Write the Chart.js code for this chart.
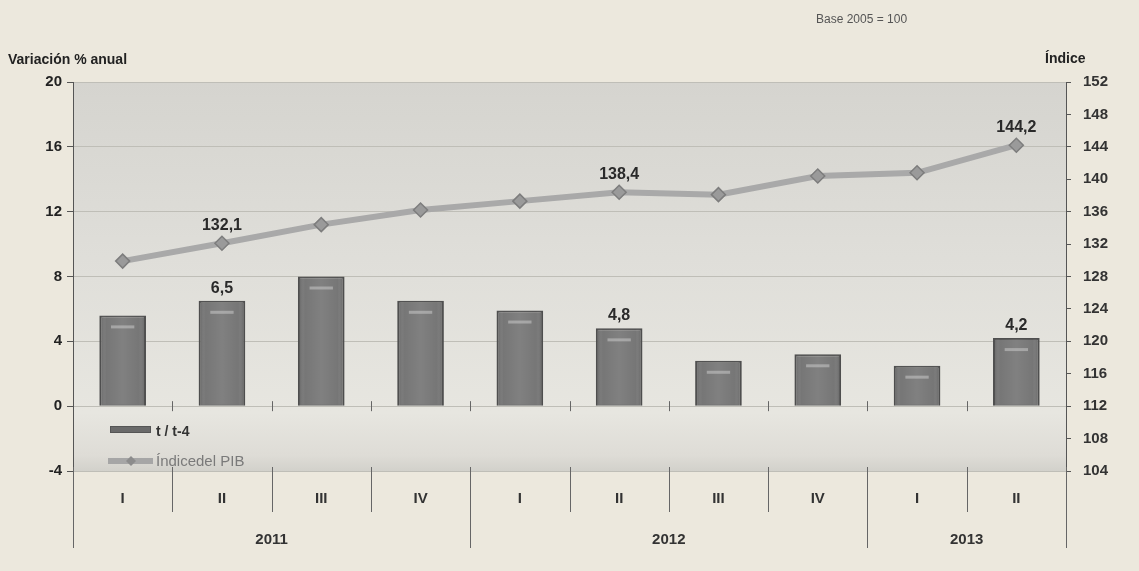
<!DOCTYPE html>
<html>
<head>
<meta charset="utf-8">
<script src="https://cdn.jsdelivr.net/npm/chart.js@4.4.0/dist/chart.umd.min.js"></script>
<style>
    html, body { margin: 0; padding: 0; background: #ece8dd; }
    #wrap { width: 1139px; height: 571px; position: relative; }
</style>
</head>
<body>
<div id="wrap"><canvas id="pibChart" width="1139" height="571"></canvas></div>
<script>
// Data
const quarters = ['I', 'II', 'III', 'IV', 'I', 'II', 'III', 'IV', 'I', 'II'];
const years = [
    {label: '2011', from: 0, to: 3},
    {label: '2012', from: 4, to: 7},
    {label: '2013', from: 8, to: 9}
];
const variacionAnual = [5.6, 6.5, 8.0, 6.5, 5.9, 4.8, 2.8, 3.2, 2.5, 4.2];
const indicePIB = [129.9, 132.1, 134.4, 136.2, 137.3, 138.4, 138.1, 140.4, 140.8, 144.2];
const labeledPoints = [1, 5, 9];

const FONT = '"Liberation Sans", Arial, sans-serif';

function fmt(v) {
    return v.toFixed(1).replace('.', ',');
}

/**
 * Background, titles, legend, year row and value labels
 */
const decorPlugin = {
    id: 'decor',
    beforeDraw(chart) {
        const {ctx, chartArea: a} = chart;
        ctx.save();
        const g = ctx.createLinearGradient(0, a.top, 0, a.bottom);
        g.addColorStop(0, '#d5d4cf');
        g.addColorStop(0.45, '#dfded9');
        g.addColorStop(0.85, '#e7e6e0');
        g.addColorStop(0.96, '#dedcd6');
        g.addColorStop(1, '#d2d1cb');
        ctx.fillStyle = g;
        ctx.fillRect(a.left, a.top, a.right - a.left, a.bottom - a.top);
        ctx.restore();
    },
    afterDatasetsDraw(chart) {
        // bevel shading on the bars
        const {ctx} = chart;
        const barMeta = chart.getDatasetMeta(0);
        ctx.save();
        barMeta.data.forEach(b => {
            const left = b.x - b.width / 2;
            const top = b.y;
            const h = b.base - b.y;
            const g = ctx.createLinearGradient(left, 0, left + b.width, 0);
            g.addColorStop(0, 'rgba(40,40,40,0.35)');
            g.addColorStop(0.15, 'rgba(255,255,255,0.05)');
            g.addColorStop(0.5, 'rgba(255,255,255,0.12)');
            g.addColorStop(0.85, 'rgba(255,255,255,0.05)');
            g.addColorStop(1, 'rgba(40,40,40,0.35)');
            ctx.fillStyle = g;
            ctx.fillRect(left + 1, top + 1, b.width - 2, h - 2);
            // highlight strip near the top
            ctx.fillStyle = 'rgba(200,200,200,0.55)';
            ctx.fillRect(b.x - b.width * 0.25, top + 10, b.width * 0.5, 3);
        });
        ctx.restore();
    },
    afterDraw(chart) {
        const {ctx, chartArea: a} = chart;
        const x = chart.scales.x;
        const y = chart.scales.y;
        ctx.save();

        // titles
        ctx.fillStyle = '#222';
        ctx.font = 'bold 14px ' + FONT;
        ctx.textAlign = 'left';
        ctx.textBaseline = 'alphabetic';
        ctx.fillText('Variación % anual', 8, 64);
        ctx.fillText('Índice', 1045, 63);
        ctx.fillStyle = '#555';
        ctx.font = '12px ' + FONT;
        ctx.fillText('Base 2005 = 100', 816, 23);

        // separators under the plot
        const half = (x.getPixelForValue(1) - x.getPixelForValue(0)) / 2;
        ctx.strokeStyle = '#666';
        ctx.lineWidth = 1;
        const yearEdges = years.map(yr => yr.from);
        for (let i = 0; i <= quarters.length; i++) {
            const px = Math.round(x.getPixelForValue(i) - half) + 0.5;
            const isYear = i === 0 || i === quarters.length || yearEdges.includes(i);
            ctx.beginPath();
            ctx.moveTo(px, a.bottom - 4);
            ctx.lineTo(px, isYear ? 548 : 512);
            ctx.stroke();
            // small ticks on zero line
            if (i > 0 && i < quarters.length) {
                const zy = y.getPixelForValue(0);
                ctx.beginPath();
                ctx.moveTo(px, zy - 5);
                ctx.lineTo(px, zy + 5);
                ctx.stroke();
            }
        }

        // year labels
        ctx.fillStyle = '#333';
        ctx.font = 'bold 15px ' + FONT;
        ctx.textAlign = 'center';
        ctx.textBaseline = 'middle';
        years.forEach(yr => {
            const cx = (x.getPixelForValue(yr.from) + x.getPixelForValue(yr.to)) / 2;
            ctx.fillText(yr.label, cx, 540);
        });

        // value labels
        const barMeta = chart.getDatasetMeta(0);
        const lineMeta = chart.getDatasetMeta(1);
        ctx.font = 'bold 16px ' + FONT;
        ctx.fillStyle = '#2a2a2a';
        ctx.textBaseline = 'alphabetic';
        labeledPoints.forEach(i => {
            const b = barMeta.data[i];
            ctx.fillText(fmt(variacionAnual[i]), b.x, b.y - 8);
            const p = lineMeta.data[i];
            ctx.fillText(fmt(indicePIB[i]), p.x, p.y - 13);
        });

        // legend
        ctx.fillStyle = '#6a6a6a';
        ctx.fillRect(110, 426, 40, 7);
        ctx.strokeStyle = '#555';
        ctx.strokeRect(110.5, 426.5, 40, 6);
        ctx.fillStyle = '#333';
        ctx.font = 'bold 14px ' + FONT;
        ctx.textAlign = 'left';
        ctx.textBaseline = 'middle';
        ctx.fillText('t / t-4', 156, 432);

        ctx.strokeStyle = '#a6a6a6';
        ctx.lineWidth = 6;
        ctx.beginPath();
        ctx.moveTo(108, 461);
        ctx.lineTo(153, 461);
        ctx.stroke();
        ctx.fillStyle = '#8c8c8c';
        ctx.beginPath();
        ctx.moveTo(131, 456); ctx.lineTo(136, 461); ctx.lineTo(131, 466); ctx.lineTo(126, 461);
        ctx.closePath();
        ctx.fill();
        ctx.fillStyle = '#7a7a7a';
        ctx.font = '15px ' + FONT;
        ctx.fillText('Índicedel PIB', 156, 462);

        ctx.restore();
    }
};

const ctx = document.getElementById('pibChart');
new Chart(ctx, {
    data: {
        labels: quarters,
        datasets: [{
            type: 'bar',
            label: 't / t-4',
            data: variacionAnual,
            yAxisID: 'y',
            backgroundColor: '#6f6f6f',
            borderColor: '#4f4f4f',
            borderWidth: 2,
            barPercentage: 0.47,
            categoryPercentage: 1,
            order: 2
        }, {
            type: 'line',
            label: 'Índicedel PIB',
            data: indicePIB,
            yAxisID: 'y1',
            borderColor: '#a9a9a9',
            borderWidth: 6,
            pointStyle: 'rectRot',
            pointRadius: 7,
            pointBackgroundColor: '#9a9a9a',
            pointBorderColor: '#7d7d7d',
            pointBorderWidth: 1.5,
            tension: 0,
            order: 1
        }]
    },
    options: {
        responsive: false,
        animation: false,
        layout: {padding: {top: 82, left: 0, right: 0, bottom: 0}},
        plugins: {legend: {display: false}, tooltip: {enabled: false}},
        scales: {
            x: {
                grid: {display: false, drawTicks: false},
                border: {display: false},
                ticks: {
                    padding: 19,
                    color: '#333',
                    font: {family: FONT, size: 15, weight: 'bold'}
                },
                afterFit: s => { s.height = 100; }
            },
            y: {
                position: 'left',
                min: -4,
                max: 20,
                ticks: {
                    stepSize: 4,
                    padding: 5,
                    color: '#222',
                    font: {family: FONT, size: 15, weight: 'bold'}
                },
                grid: {color: '#bfbeb7', tickLength: 6, tickColor: '#555'},
                border: {display: true, color: '#555'},
                afterFit: s => { s.width = 73; }
            },
            y1: {
                position: 'right',
                min: 104,
                max: 152,
                ticks: {
                    stepSize: 4,
                    padding: 12,
                    color: '#333',
                    font: {family: FONT, size: 15, weight: 'bold'}
                },
                grid: {drawOnChartArea: false, tickLength: 5, tickColor: '#555'},
                border: {display: true, color: '#555'},
                afterFit: s => { s.width = 73; }
            }
        }
    },
    plugins: [decorPlugin]
});
</script>
</body>
</html>
